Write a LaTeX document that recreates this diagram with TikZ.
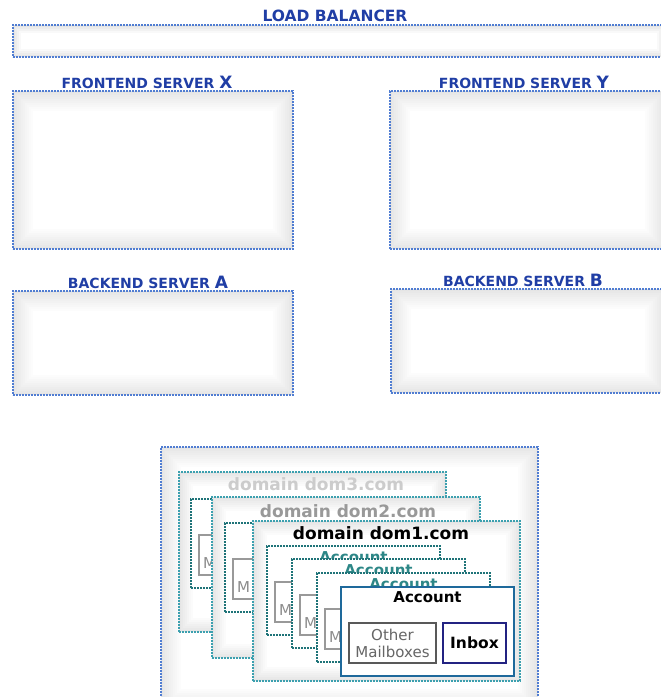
\documentclass[tikz,border=0pt]{standalone}
\usepackage{fontspec}
\setmainfont{DejaVu Sans}
\definecolor{hblue}{RGB}{32,62,165}
\definecolor{sborder}{RGB}{80,125,210}
\definecolor{dborder}{RGB}{60,160,175}
\definecolor{aborder}{RGB}{30,115,120}
\definecolor{ateal}{RGB}{45,135,135}
\definecolor{fborder}{RGB}{30,105,155}
\definecolor{ibborder}{RGB}{35,35,130}
\newcommand{\bigletter}[1]{{\fontsize{17}{17}\selectfont #1}}
\tikzset{
  x=1pt, y=-1pt,
  glow/.style={path picture={
    \foreach \i in {0,...,#1}{
      \pgfmathsetmacro{\d}{\i*2}
      \pgfmathsetmacro{\c}{10*(1-\i/#1)}
      \fill[black!\c] ([shift={(\d pt,-\d pt)}]path picture bounding box.north west)
        rectangle ([shift={(-\d pt,\d pt)}]path picture bounding box.south east);}}},
  boxbase/.style={anchor=north west, rectangle, inner sep=0pt, outer sep=0pt},
  srv/.style={boxbase, draw=sborder, line width=1.2pt, dash pattern=on 2pt off 1pt, glow=10},
  lbbox/.style={boxbase, draw=sborder, line width=1.2pt, dash pattern=on 2pt off 1pt, glow=4},
  dom/.style={boxbase, draw=dborder, line width=1.1pt, dash pattern=on 2pt off 1pt, glow=7,
    minimum width=267pt, minimum height=160pt},
  accback/.style={boxbase, fill=white, draw=aborder, line width=1.1pt, dash pattern=on 2pt off 1pt,
    minimum width=173pt, minimum height=89pt},
  accfront/.style={boxbase, fill=white, draw=fborder, line width=1.6pt,
    minimum width=173pt, minimum height=89pt},
  mbback/.style={boxbase, fill=white, draw=black!40, line width=1.2pt, minimum width=87pt,
    minimum height=40pt},
  mbtext/.style={anchor=west, inner sep=0pt, text=black!45, font=\fontsize{15}{17}\selectfont},
  mbfront/.style={boxbase, fill=white, draw=black!65, line width=1.5pt, minimum width=87pt,
    minimum height=40pt, align=center, text=black!60, font=\fontsize{15}{17}\selectfont},
  inboxbox/.style={boxbase, fill=white, draw=ibborder, line width=1.6pt, minimum width=63pt,
    minimum height=40pt, font=\bfseries\fontsize{15.5}{17}\selectfont},
  head/.style={text=hblue, inner sep=0pt, font=\bfseries\fontsize{14}{15}\selectfont},
  lbhead/.style={text=hblue, inner sep=0pt, font=\bfseries\fontsize{15.5}{16}\selectfont},
  domlabel/.style={inner sep=0pt, font=\bfseries\fontsize{17}{18}\selectfont},
  acclabel/.style={inner sep=0pt, font=\bfseries\fontsize{15}{16}\selectfont},
}
\begin{document}
\begin{tikzpicture}
\useasboundingbox (0,0) rectangle (661,697);

% load balancer
\node[lbhead] (lbt) at (335,16) {LOAD BALANCER};
\node[lbbox, minimum width=652pt, minimum height=32pt] (lb) at (13,25) {};

% frontend servers
\node[head] (fxt) at (147,82) {FRONTEND SERVER \bigletter{X}};
\node[srv, minimum width=280pt, minimum height=158pt] (fx) at (13,91) {};
\node[head] (fyt) at (524,82) {FRONTEND SERVER \bigletter{Y}};
\node[srv, minimum width=275pt, minimum height=158pt] (fy) at (390,91) {};

% backend servers
\node[head] (bat) at (148,282) {BACKEND SERVER \bigletter{A}};
\node[srv, minimum width=280pt, minimum height=104pt] (ba) at (13,291) {};
\node[head] (bbt) at (523,280) {BACKEND SERVER \bigletter{B}};
\node[srv, minimum width=274pt, minimum height=104pt] (bb) at (391,289) {};

% mail store
\node[srv, minimum width=377pt, minimum height=262pt] (store) at (161,447) {};

% domain dom3
\node[dom] (d3) at (179,472) {};
\node[domlabel, text=black!20] (d3t) at (316,484) {domain dom3.com};
\node[accback] (d3a) at (191,499) {};
\node[mbback] (d3m) at ([shift={(8pt,-36pt)}]d3a.north west) {};
\node[mbtext] (d3mt) at ([shift={(4pt,-8pt)}]d3m.west) {M};

% domain dom2
\node[dom, minimum width=268pt, minimum height=161pt] (d2) at (212,497) {};
\node[domlabel, text=black!40] (d2t) at (348,511) {domain dom2.com};
\node[accback] (d2a) at (225,523) {};
\node[mbback] (d2m) at ([shift={(8pt,-36pt)}]d2a.north west) {};
\node[mbtext] (d2mt) at ([shift={(4pt,-8pt)}]d2m.west) {M};

% domain dom1
\node[dom] (d1) at (253,521) {};
\node[domlabel, text=black] (d1t) at (381,533) {domain dom1.com};

\node[accback] (a1) at (267,546) {};
\node[acclabel, text=ateal] (a1t) at ([yshift=-11pt]a1.north) {Account};
\node[mbback] (a1m) at ([shift={(8pt,-36pt)}]a1.north west) {};
\node[mbtext] (a1mt) at ([shift={(4pt,-8pt)}]a1m.west) {M};

\node[accback] (a2) at (292,559) {};
\node[acclabel, text=ateal] (a2t) at ([yshift=-11pt]a2.north) {Account};
\node[mbback] (a2m) at ([shift={(8pt,-36pt)}]a2.north west) {};
\node[mbtext] (a2mt) at ([shift={(4pt,-8pt)}]a2m.west) {M};

\node[accback] (a3) at (317,573) {};
\node[acclabel, text=ateal] (a3t) at ([yshift=-11pt]a3.north) {Account};
\node[mbback] (a3m) at ([shift={(8pt,-36pt)}]a3.north west) {};
\node[mbtext] (a3mt) at ([shift={(4pt,-8pt)}]a3m.west) {M};

\node[accfront] (a4) at (341,587) {};
\node[acclabel, text=black] (a4t) at ([yshift=-10pt]a4.north) {Account};
\node[mbfront] (a4m) at ([shift={(8pt,-36pt)}]a4.north west) {Other\\Mailboxes};
\node[inboxbox] (a4i) at ([shift={(102pt,-36pt)}]a4.north west) {Inbox};
\end{tikzpicture}
\end{document}
